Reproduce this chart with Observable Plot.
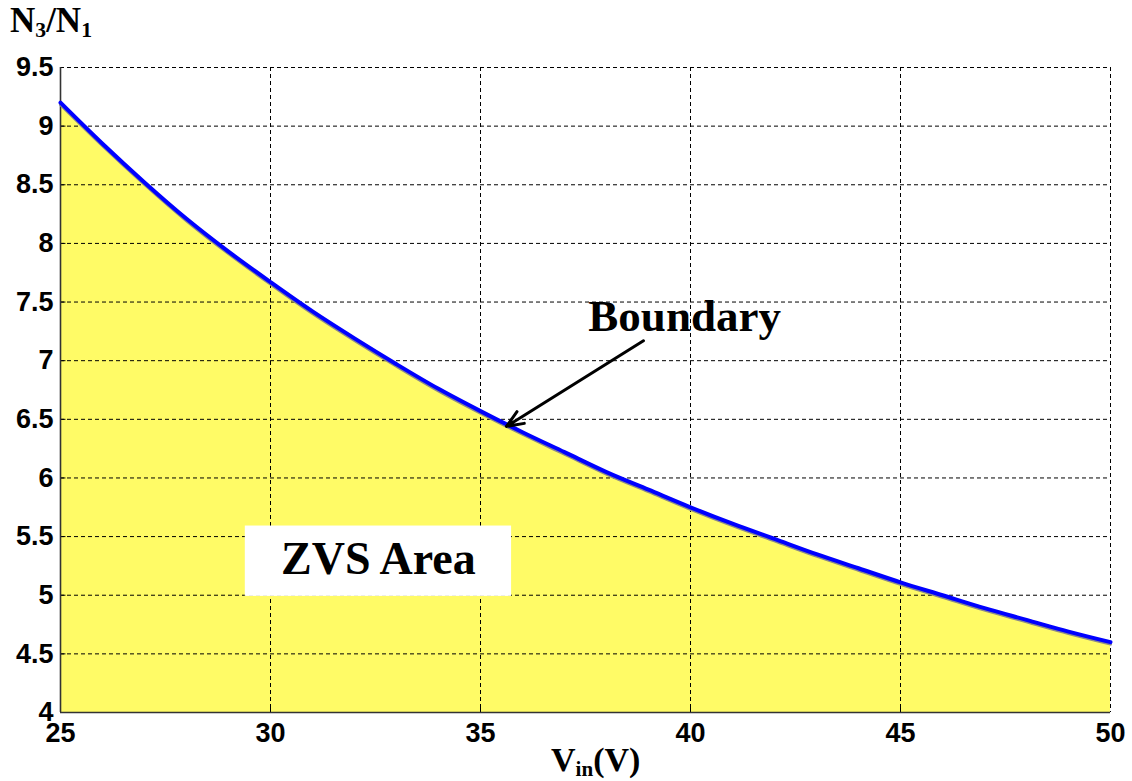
<!DOCTYPE html>
<html>
<head>
<meta charset="utf-8">
<script src="https://cdn.jsdelivr.net/npm/d3@7"></script>
<script src="https://cdn.jsdelivr.net/npm/@observablehq/plot@0.6"></script>
<style>
  html, body { margin: 0; padding: 0; background: #fff; }
  #wrap { position: relative; width: 1132px; height: 781px; }
  .lab { position: absolute; font-family: "Liberation Serif", "Times New Roman", serif; font-weight: bold; color: #000; white-space: nowrap; line-height: 1; }
  .lab sub { font-size: 0.62em; vertical-align: -0.25em; }
</style>
</head>
<body>
<div id="wrap">
  <div class="lab" id="ylab" style="left:10px; top:3px; font-size:35px;">N<sub>3</sub>/N<sub>1</sub></div>
  <div class="lab" id="xlab" style="left:551px; top:743px; font-size:34px;">V<sub>in</sub>(V)</div>
</div>
<script>
// Boundary curve
const vin = [25, 26, 27, 28, 29, 30, 31, 32, 33, 34, 35, 36, 37, 38, 39, 40, 41, 42, 43, 44, 45, 46, 47, 48, 49, 50];
const ratio = [9.2, 8.85, 8.52, 8.21, 7.93, 7.67, 7.42, 7.19, 6.97, 6.76, 6.57, 6.39, 6.22, 6.05, 5.9, 5.75, 5.61, 5.48, 5.35, 5.23, 5.11, 5.0, 4.89, 4.79, 4.69, 4.6];

const xTicks = [25, 30, 35, 40, 45, 50];
const yTicks = [4, 4.5, 5, 5.5, 6, 6.5, 7, 7.5, 8, 8.5, 9, 9.5];

// annotations
const zvsBox = [{x1: 29.4, x2: 35.74, y1: 4.99, y2: 5.59}];
const zvsLabel = [{x: 32.57, y: 5.31, text: "ZVS Area"}];
const boundaryLabel = [{x: 39.86, y: 7.38, text: "Boundary"}];
const boundaryArrow = [{x1: 38.88, y1: 7.17, x2: 35.62, y2: 6.44}];

const data = vin.map((v, i) => ({v, r: ratio[i]}));

const serif = "'Liberation Serif', 'Times New Roman', serif";

const chart = Plot.plot({
  width: 1132,
  height: 781,
  marginLeft: 60,
  marginRight: 22,
  marginTop: 67,
  marginBottom: 69,
  style: {fontFamily: "'Liberation Sans', Arial, sans-serif", fontWeight: "bold", fontSize: "27px", background: "#fff", color: "#000"},
  x: {domain: [25, 50]},
  y: {domain: [4, 9.5]},
  marks: [
    Plot.areaY(data, {x: "v", y1: 4, y2: "r", fill: "#fffb66", curve: "catmull-rom"}),
    Plot.ruleX(xTicks.slice(1), {stroke: "#000", strokeWidth: 1, strokeDasharray: "4,3"}),
    Plot.ruleY(yTicks.slice(1), {stroke: "#000", strokeWidth: 1, strokeDasharray: "4,3"}),
    Plot.ruleX(xTicks.slice(1, -1), {y1: 4, y2: 4.05, stroke: "#000", strokeWidth: 1}),
    Plot.ruleY(yTicks.slice(1, -1), {x1: 25, x2: 25.13, stroke: "#000", strokeWidth: 1}),
    Plot.ruleX([25], {stroke: "#333", strokeWidth: 1.6}),
    Plot.ruleY([4], {stroke: "#333", strokeWidth: 1.6}),
    Plot.rectY(zvsBox, {x1: "x1", x2: "x2", y1: "y1", y2: "y2", fill: "#fff"}),
    Plot.text(zvsLabel, {x: "x", y: "y", text: "text", fontFamily: serif, fontWeight: "bold", fontSize: 46, fill: "#000"}),
    Plot.line(data, {x: "v", y: "r", stroke: "#8a8a8a", strokeWidth: 3, dy: 2, curve: "catmull-rom"}),
    Plot.line(data, {x: "v", y: "r", stroke: "#0000ff", strokeWidth: 4, curve: "catmull-rom"}),
    Plot.arrow(boundaryArrow, {x1: "x1", y1: "y1", x2: "x2", y2: "y2", stroke: "#000", strokeWidth: 3, headLength: 9, headAngle: 45}),
    Plot.text(boundaryLabel, {x: "x", y: "y", text: "text", fontFamily: serif, fontWeight: "bold", fontSize: 45, fill: "#000"}),
    Plot.axisX(xTicks, {tickSize: 0, tickPadding: 10, fontSize: 27, fontWeight: "bold", fill: "#000"}),
    Plot.axisY(yTicks, {tickSize: 0, tickPadding: 7, fontSize: 27, fontWeight: "bold", fill: "#000", tickFormat: d => String(d)})
  ]
});
chart.style.position = "absolute";
chart.style.left = "0px";
chart.style.top = "0px";
document.getElementById("wrap").prepend(chart);
</script>
</body>
</html>
